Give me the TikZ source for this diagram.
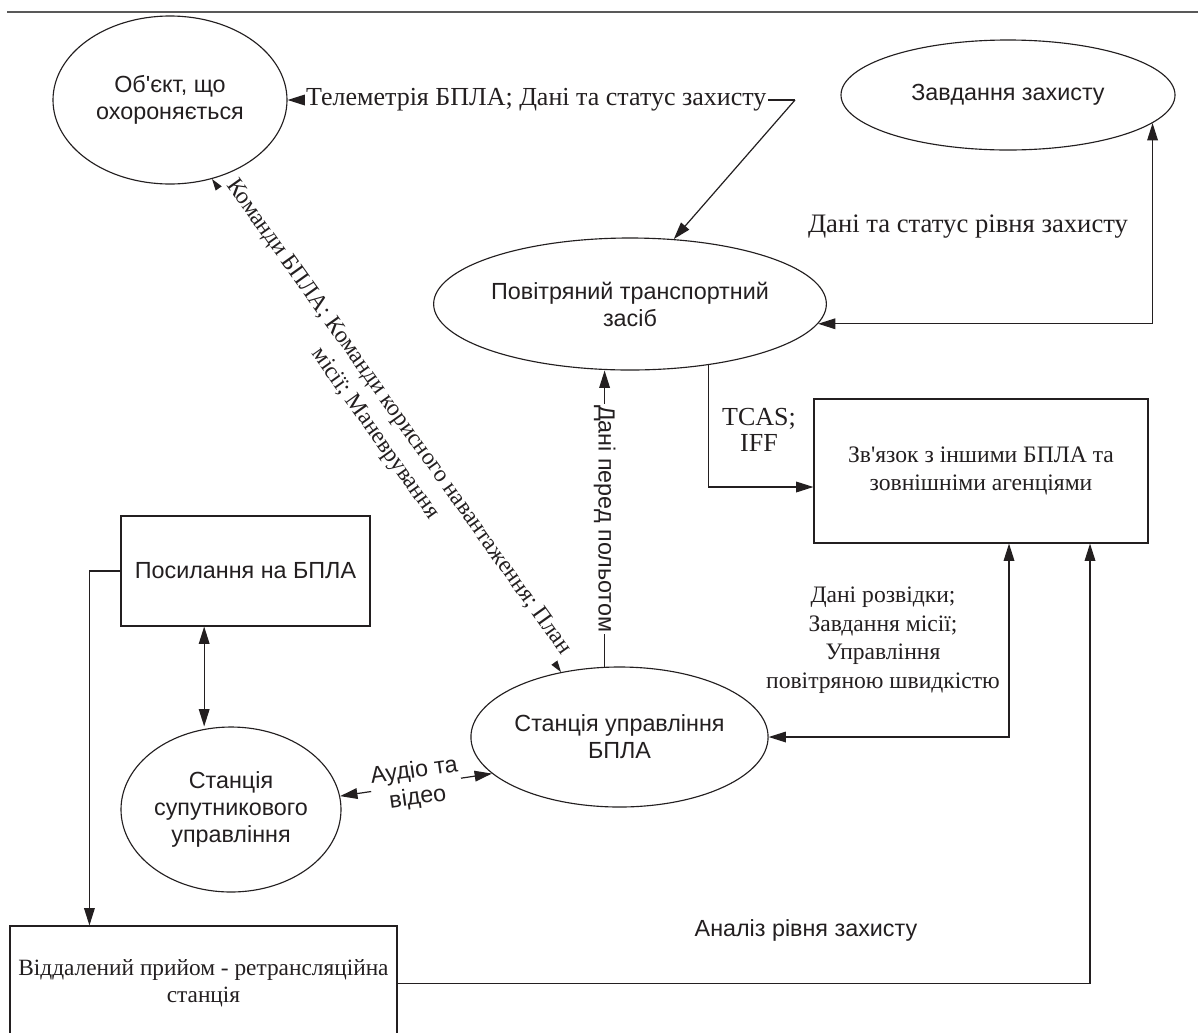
\documentclass[tikz,border=0pt]{standalone}
\usepackage{fontspec}
\setmainfont{Liberation Serif}
\setsansfont{Liberation Sans}
\usetikzlibrary{arrows.meta,shapes.geometric,calc}
\pgfdeclarelayer{bg}
\pgfsetlayers{bg,main}
\definecolor{linec}{HTML}{231F20}
\begin{document}
\begin{tikzpicture}[x=0.75pt,y=-0.75pt,
  every node/.style={inner sep=0pt, text=linec},
  sansf/.style={font=\sffamily\fontsize{17.5}{20.3}\selectfont},
  seriff/.style={font=\rmfamily\fontsize{17.7}{21.4}\selectfont},
  serifl/.style={font=\rmfamily\fontsize{19.5}{19.5}\selectfont},
  ell/.style={draw=linec, ellipse, sansf, align=center, line width=0.85pt},
  boxn/.style={draw=linec, rectangle, align=center, line width=0.85pt},
  conn/.style={line width=0.9pt, draw=linec},
  tip/.tip={Triangle[length=13pt,width=8pt]},
  arr/.style={conn, -tip},
  arr2/.style={conn, tip-tip},
  lbl/.style={fill=white, inner sep=1pt, align=center}]
\useasboundingbox (0,0) rectangle (1198,1032);
\clip (0,0) rectangle (1198,1032);
\begin{pgfonlayer}{bg}
\fill[white] (0,0) rectangle (1198,1032);
\end{pgfonlayer}
\draw[line width=1.6pt, gray!70!black] (7,12) -- (1198,12);

% nodes
\node[ell, minimum width=175.5pt, minimum height=126pt] (obj) at (170,100) {Об\textquotesingle єкт, що\\охороняється};
\node[ell, minimum width=250.5pt, minimum height=82.5pt] (task) at (1008,95) {Завдання захисту};
\node[ell, minimum width=250pt, minimum height=99pt] (air) at (630,304) {Повітряний транспортний\\засіб};
\node[boxn, seriff, minimum width=250.5pt, minimum height=108pt] (link) at (981,471) {Зв\textquotesingle язок з іншими БПЛА та\\зовнішніми агенціями};
\node[boxn, sansf, minimum width=186.75pt, minimum height=82.5pt] (ref) at (245.5,571) {Посилання на БПЛА};
\node[ell, minimum width=165pt, minimum height=123.75pt] (sat) at (231,809.5) {Станція\\супутникового\\управління};
\node[ell, minimum width=207.75pt, minimum height=105pt] (stat) at (619.5,737) {Станція управління\\БПЛА};
\node[boxn, seriff, font=\rmfamily\fontsize{17.5}{20.3}\selectfont, minimum width=290.25pt, minimum height=86.25pt] (remote) at (203.5,983.5) {Віддалений прийом - ретрансляційна\\станція};

% connectors
\begin{pgfonlayer}{bg}
\coordinate (tc) at (795,100);
\draw[arr] (tc) -- node[lbl, serifl, pos=0.51] {Телеметрія БПЛА; Дані та статус захисту} (obj.east);
\draw[arr] (tc) -- (air.56);

\draw[arr2] (air.-6.4) -| (task.-11.8);

\draw[arr2] (stat.132) -- node[lbl, seriff, rotate=-54.5] {Команди БПЛА; Команди корисного навантаження; План\\місії; Маневрування} (obj.-62);

\coordinate (db) at (stat.102);
\draw[arr] (db) -- node[lbl, sansf, rotate=-90] {Дані перед польотом} (db |- air.south);

\draw[arr] (air.-38.6) |- ([yshift=-12pt]link.west);

\draw[arr2] ([xshift=21pt]link.south) |- (stat.east);

\draw[arr] (remote.east) -| ([xshift=81.75pt]link.south);

\draw[arr] (ref.west) -| ([xshift=60pt]remote.north west);
\coordinate (rb) at ([xshift=-31pt]ref.south);
\draw[arr2] (rb) -- (rb |- sat.north);

\draw[arr2] (sat.7) -- node[lbl, sansf, rotate=8] {Аудіо та\\відео} (stat.196);
\end{pgfonlayer}

% free labels
\node[font=\rmfamily\fontsize{20}{20}\selectfont] (lblA) at (968,227) {Дані та статус рівня захисту};
\node[align=center, font=\rmfamily\fontsize{19.5}{19.5}\selectfont] (lblT) at (759,430) {TCAS;\\IFF};
\node[seriff, align=center] (lblR) at (883,640) {Дані розвідки;\\Завдання місії;\\Управління\\повітряною швидкістю};
\node[sansf] (lblS) at (806,930) {Аналіз рівня захисту};
\end{tikzpicture}
\end{document}
